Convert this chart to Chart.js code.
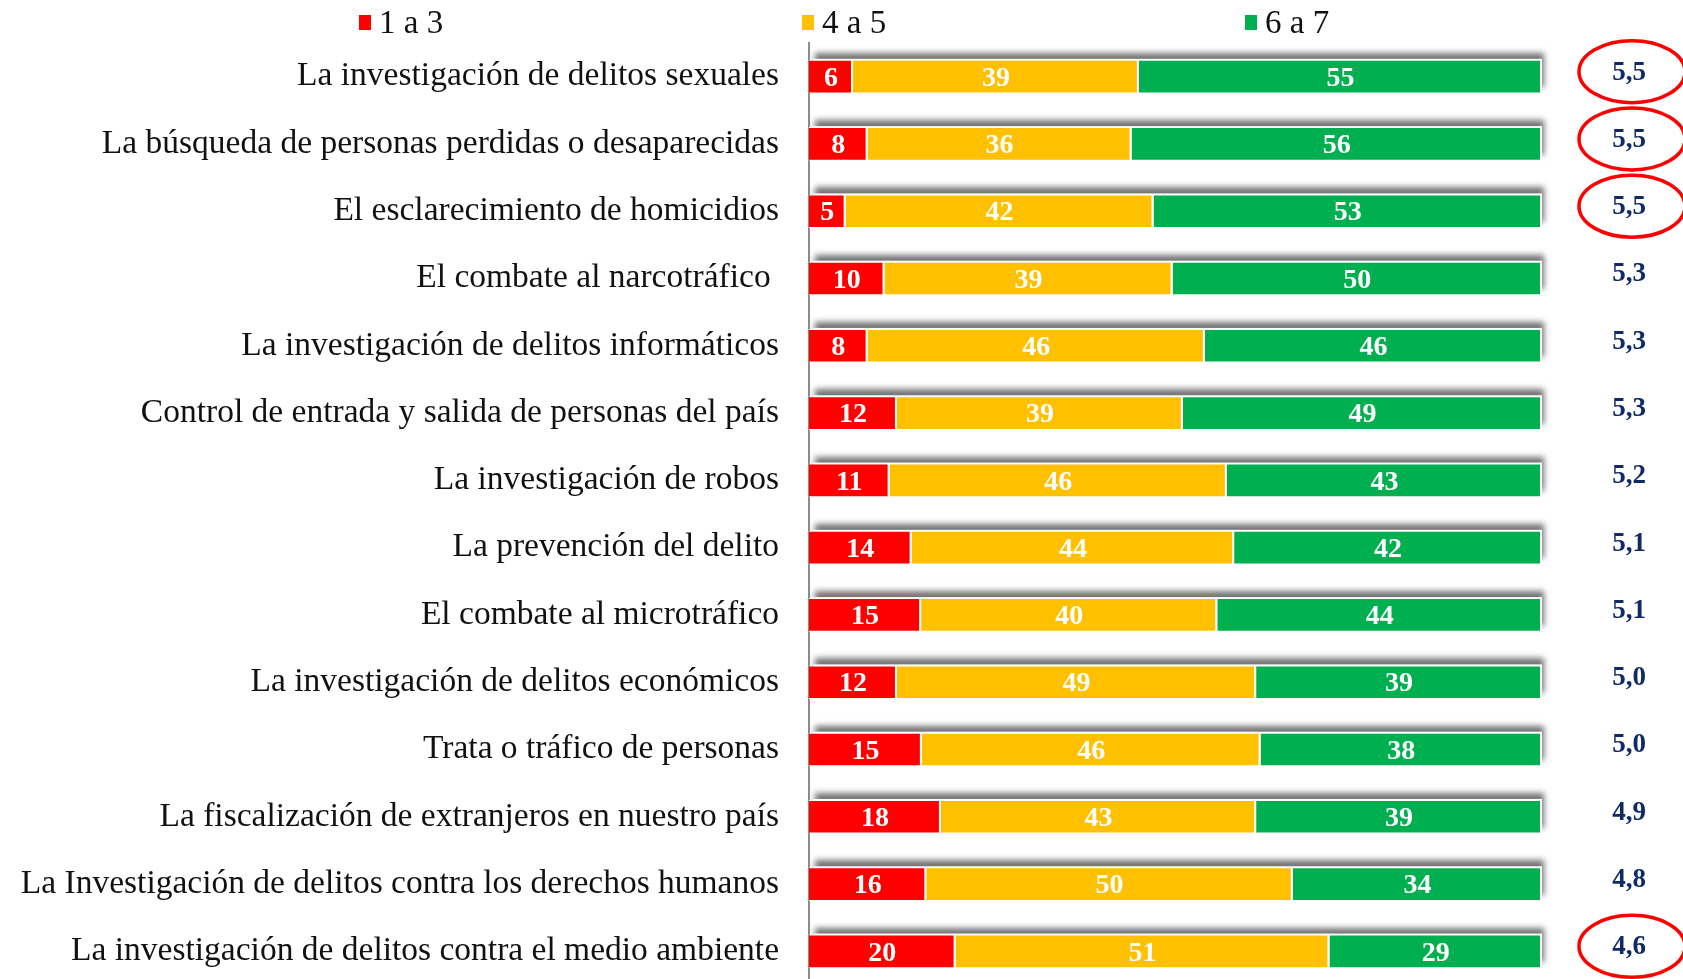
<!DOCTYPE html>
<html>
<head>
<meta charset="utf-8">
<script src="https://cdn.jsdelivr.net/npm/chart.js@4.4.1/dist/chart.umd.min.js"></script>
<style>
  html, body { margin: 0; padding: 0; background: #fff; overflow: hidden; }
</style>
</head>
<body>
<canvas id="chart" width="1683" height="985"></canvas>
<script>
  // Categories (top to bottom)
  const categories = [
    'La investigación de delitos sexuales',
    'La búsqueda de personas perdidas o desaparecidas',
    'El esclarecimiento de homicidios',
    'El combate al narcotráfico ',
    'La investigación de delitos informáticos',
    'Control de entrada y salida de personas del país',
    'La investigación de robos',
    'La prevención del delito',
    'El combate al microtráfico',
    'La investigación de delitos económicos',
    'Trata o tráfico de personas',
    'La fiscalización de extranjeros en nuestro país',
    'La Investigación de delitos contra los derechos humanos',
    'La investigación de delitos contra el medio ambiente'
  ];

  // Percentages per grade band (labels show rounded values)
  const low = [6, 8, 5, 10.3, 8, 12, 11, 14, 15.3, 12, 15.4, 18, 16, 20];
  const mid = [39, 36, 42, 39.3, 46, 39, 46, 44, 40.4, 49, 46.2, 43, 50, 51];
  const high = [55, 56, 53, 50.4, 46, 49, 43, 42, 44.3, 39, 38.4, 39, 34, 29];

  // Average grade, and which ones are circled
  const averages = ['5,5', '5,5', '5,5', '5,3', '5,3', '5,3', '5,2', '5,1', '5,1', '5,0', '5,0', '4,9', '4,8', '4,6'];
  const circled = [0, 1, 2, 13];

  const seriesNames = ['1 a 3', '4 a 5', '6 a 7'];
  const colors = ['#FF0000', '#FFC000', '#00B050'];

  const FONT = '"Liberation Serif", "Times New Roman", serif';

  // soft shadow behind each row of bars (shows above and to the right)
  const shadowPlugin = {
    id: 'barShadow',
    beforeDatasetsDraw(chart) {
      const ctx = chart.ctx;
      const area = chart.chartArea;
      const meta = chart.getDatasetMeta(0);
      ctx.save();
      ctx.shadowColor = 'rgba(0,0,0,0.55)';
      ctx.shadowBlur = 6;
      ctx.shadowOffsetX = 2;
      ctx.shadowOffsetY = -6;
      ctx.fillStyle = '#ffffff';
      meta.data.forEach(el => {
        const top = el.y - el.height / 2;
        ctx.fillRect(area.left + 4, top - 1, area.right - area.left - 4, el.height + 1);
      });
      ctx.restore();
    }
  };

  // values inside segments, averages on the right, legend on top
  const labelPlugin = {
    id: 'labels',
    afterDatasetsDraw(chart) {
      const ctx = chart.ctx;
      ctx.save();
      ctx.font = 'bold 28px ' + FONT;
      ctx.fillStyle = '#ffffff';
      ctx.textAlign = 'center';
      ctx.textBaseline = 'middle';
      chart.data.datasets.forEach((ds, d) => {
        chart.getDatasetMeta(d).data.forEach((el, i) => {
          const x = (el.x + el.base) / 2;
          ctx.fillText(Math.round(ds.data[i]), x, el.y + 2);
        });
      });

      // averages
      const yScale = chart.scales.y;
      const cx = 1629;
      ctx.font = 'bold 27px ' + FONT;
      ctx.fillStyle = '#102a66';
      averages.forEach((a, i) => {
        const y = yScale.getPixelForValue(i) - 4;
        ctx.fillText(a, cx, y);
      });
      ctx.strokeStyle = '#FF0000';
      ctx.lineWidth = 3.5;
      circled.forEach(i => {
        const y = yScale.getPixelForValue(i) - 5;
        ctx.beginPath();
        ctx.ellipse(cx + 3, y, 53, 31, 0, 0, Math.PI * 2);
        ctx.stroke();
      });

      // legend
      ctx.font = '33px ' + FONT;
      ctx.textAlign = 'left';
      chart.data.datasets.forEach((ds, d) => {
        const bx = 802 + (d - 1) * 443;
        ctx.fillStyle = ds.backgroundColor;
        ctx.fillRect(bx, 15, 12, 15);
        ctx.fillStyle = '#111';
        ctx.fillText(ds.label, bx + 20, 24);
      });
      ctx.restore();
    }
  };

  const ctx = document.getElementById('chart').getContext('2d');
  const chart = new Chart(ctx, {
    type: 'bar',
    data: {
      labels: categories,
      datasets: [low, mid, high].map((vals, d) => ({
        label: seriesNames[d],
        data: vals,
        backgroundColor: colors[d],
        borderColor: '#ffffff',
        borderWidth: { top: 1, bottom: 1, right: 2, left: 0 },
        borderSkipped: false,
        categoryPercentage: 1,
        barPercentage: 0.5
      }))
    },
    options: {
      indexAxis: 'y',
      responsive: false,
      animation: false,
      devicePixelRatio: 1,
      layout: { padding: { top: 43, right: 141, bottom: 0, left: 0 } },
      plugins: {
        legend: { display: false },
        tooltip: { enabled: false }
      },
      scales: {
        x: {
          stacked: true,
          min: 0,
          max: 100,
          display: false
        },
        y: {
          stacked: true,
          grid: { display: false, drawTicks: false },
          border: { display: true, color: '#8c8c8c', width: 2 },
          ticks: {
            color: '#111',
            padding: 30,
            font: { family: FONT, size: 33.5 }
          },
          afterFit(scale) {
            scale.width = 809;
            scale.paddingTop = 0;
            scale.paddingBottom = 0;
          }
        }
      }
    },
    plugins: [shadowPlugin, labelPlugin]
  });
</script>
</body>
</html>
